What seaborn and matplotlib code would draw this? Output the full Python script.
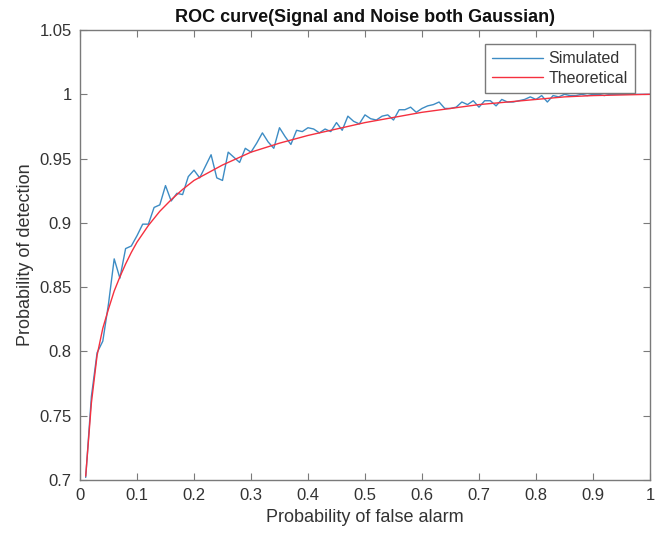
import numpy as np
import pandas as pd
import matplotlib
matplotlib.use("Agg")
import matplotlib.pyplot as plt
import seaborn as sns
from matplotlib.ticker import FuncFormatter, MultipleLocator

# ---- data ----
sim_pfa = [round(0.01 * i, 2) for i in range(1, 101)]
sim_pd = [0.702, 0.765, 0.799, 0.808, 0.837, 0.872, 0.857, 0.880, 0.882, 0.890,
          0.899, 0.899, 0.912, 0.914, 0.929, 0.917, 0.923, 0.922, 0.936, 0.941,
          0.935, 0.944, 0.953, 0.935, 0.933, 0.955, 0.951, 0.947, 0.958, 0.955,
          0.962, 0.970, 0.963, 0.958, 0.974, 0.967, 0.961, 0.972, 0.971, 0.974,
          0.973, 0.970, 0.973, 0.971, 0.978, 0.972, 0.983, 0.979, 0.977, 0.984,
          0.981, 0.980, 0.983, 0.984, 0.980, 0.988, 0.988, 0.990, 0.986, 0.989,
          0.991, 0.992, 0.994, 0.989, 0.989, 0.990, 0.994, 0.992, 0.995, 0.990,
          0.995, 0.995, 0.991, 0.996, 0.994, 0.994, 0.995, 0.996, 0.998, 0.996,
          0.999, 0.994, 0.999, 0.998, 1.000, 0.999, 0.999, 1.000, 0.999, 1.000,
          1.000, 0.999, 1.000, 1.000, 1.000, 1.000, 1.000, 1.000, 1.000, 1.000]

theo_pfa = [0.01, 0.02, 0.03, 0.04, 0.05, 0.06, 0.07, 0.08, 0.09, 0.10,
            0.12, 0.14, 0.16, 0.18, 0.20, 0.25, 0.30, 0.35, 0.40, 0.45,
            0.50, 0.55, 0.60, 0.65, 0.70, 0.75, 0.80, 0.85, 0.90, 0.95, 1.00]
theo_pd = [0.703, 0.760, 0.797, 0.818, 0.833, 0.847, 0.858, 0.868, 0.877, 0.885,
           0.898, 0.909, 0.918, 0.926, 0.933, 0.945, 0.955, 0.962, 0.968, 0.973,
           0.978, 0.982, 0.986, 0.989, 0.992, 0.994, 0.996, 0.998, 0.999, 0.9995, 1.000]

xticks = [0, 0.1, 0.2, 0.3, 0.4, 0.5, 0.6, 0.7, 0.8, 0.9, 1]
yticks = [0.7, 0.75, 0.8, 0.85, 0.9, 0.95, 1, 1.05]

sns.set_style("white")
plt.rcParams['font.family'] = ['Liberation Sans', 'DejaVu Sans']

fig = plt.figure(figsize=(6.7, 5.38), dpi=100)
ax = fig.add_axes([0.1194, 0.1078, 0.8507, 0.8364])

sim_df = pd.DataFrame({"pfa": sim_pfa, "pd": sim_pd})
theo_df = pd.DataFrame({"pfa": theo_pfa, "pd": theo_pd})

sns.lineplot(data=sim_df, x="pfa", y="pd", ax=ax, color="#3d8cc4",
             linewidth=1.0, label="Simulated", sort=False)
sns.lineplot(data=theo_df, x="pfa", y="pd", ax=ax, color="#f5303f",
             linewidth=1.0, label="Theoretical", sort=False)

ax.set_xlim(0, 1)
ax.set_ylim(0.7, 1.05)
ax.set_xticks(xticks)
ax.set_yticks(yticks)
fmt = FuncFormatter(lambda v, p: "%g" % round(v, 4))
ax.xaxis.set_major_formatter(fmt)
ax.yaxis.set_major_formatter(fmt)

for s in ax.spines.values():
    s.set_visible(True)
    s.set_color("#7a7a7a")
    s.set_linewidth(1.0)
ax.tick_params(direction="in", length=5, width=0.8, colors="#7a7a7a",
               labelcolor="#333333", labelsize=12, top=True, right=True,
               bottom=True, left=True, pad=6)

ax.set_xlabel("Probability of false alarm", fontsize=13, color="#333333")
ax.set_ylabel("Probability of detection", fontsize=13, color="#333333")
ax.set_title("ROC curve(Signal and Noise both Gaussian)", fontsize=13,
             fontweight="bold", color="#111111", pad=6)

leg = ax.legend(loc="upper right", bbox_to_anchor=(0.974, 0.969), fontsize=11.5,
                frameon=True, fancybox=False, framealpha=1, borderpad=0.45,
                handlelength=3.2, handletextpad=0.35, labelspacing=0.3,
                borderaxespad=0.0)
leg.get_frame().set_edgecolor("#7a7a7a")
leg.get_frame().set_linewidth(1.0)
for t in leg.get_texts():
    t.set_color("#333333")

fig.savefig("out.png", dpi=100, facecolor="white")
